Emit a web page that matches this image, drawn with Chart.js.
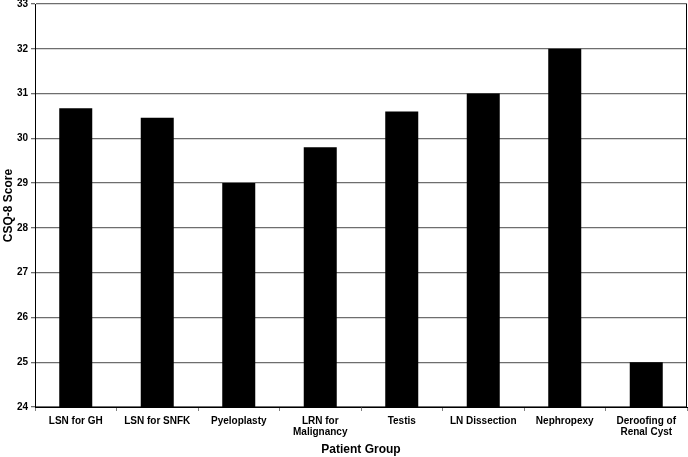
<!DOCTYPE html>
<html>
<head>
<meta charset="utf-8">
<script src="https://cdn.jsdelivr.net/npm/chart.js@4"></script>
<style>
html,body{margin:0;padding:0;background:#fff;}
#wrap{width:688px;height:457px;}
</style>
</head>
<body>
<div id="wrap"><canvas id="c" width="688" height="457"></canvas></div>
<script>
const categories = ["LSN for GH", "LSN for SNFK", "Pyeloplasty", ["LRN for", "Malignancy"], "Testis", "LN Dissection", "Nephropexy", ["Deroofing of", "Renal Cyst"]];
const scores = [30.67, 30.46, 29.0, 29.8, 30.6, 31.0, 32.0, 25.0];
const yMin = 24, yMax = 33, yStep = 1;

const frame = {
  id: 'frame',
  afterDraw(chart) {
    const {ctx, chartArea: a} = chart;
    ctx.save();
    ctx.strokeStyle = '#000';
    ctx.lineWidth = 1;
    ctx.beginPath();
    ctx.moveTo(Math.round(a.right) - 0.5, a.top);
    ctx.lineTo(Math.round(a.right) - 0.5, a.bottom);
    ctx.stroke();
    ctx.restore();
  }
};

new Chart(document.getElementById('c'), {
  type: 'bar',
  data: {
    labels: categories,
    datasets: [{
      data: scores,
      backgroundColor: '#000',
      borderColor: '#000',
      borderWidth: 0,
      categoryPercentage: 1.0,
      barPercentage: 0.405
    }]
  },
  options: {
    responsive: false,
    animation: false,
    devicePixelRatio: 1,
    layout: { padding: { top: 4, right: 1, bottom: 0, left: 0 } },
    plugins: { legend: { display: false }, tooltip: { enabled: false } },
    scales: {
      x: {
        grid: { drawOnChartArea: false, tickLength: 4, color: '#808080', offset: true },
        border: { color: '#000', width: 1 },
        ticks: { color: '#000', padding: 4, maxRotation: 0, autoSkip: false,
          font: { family: 'Liberation Sans, Arial, sans-serif', size: 10, weight: 'bold', lineHeight: 1.15 } },
        title: { display: true, text: 'Patient Group', color: '#000', padding: { top: 0, bottom: 0 },
          font: { family: 'Liberation Sans, Arial, sans-serif', size: 12, weight: 'bold' } },
        afterFit(s) { s.height = 50; s.paddingLeft = 0; s.paddingRight = 0; }
      },
      y: {
        min: yMin, max: yMax,
        grid: { color: '#6e6e6e', tickLength: 4, lineWidth: 1.3 },
        border: { color: '#000', width: 1 },
        ticks: { stepSize: yStep, color: '#000', padding: 3,
          font: { family: 'Liberation Sans, Arial, sans-serif', size: 10, weight: 'bold' } },
        title: { display: true, text: 'CSQ-8 Score', color: '#000', padding: { top: 1, bottom: 0 },
          font: { family: 'Liberation Sans, Arial, sans-serif', size: 12, weight: 'bold' } },
        afterFit(s) { s.width = 35; s.paddingTop = 0; s.paddingBottom = 0; }
      }
    }
  },
  plugins: [frame]
});
</script>
</body>
</html>
